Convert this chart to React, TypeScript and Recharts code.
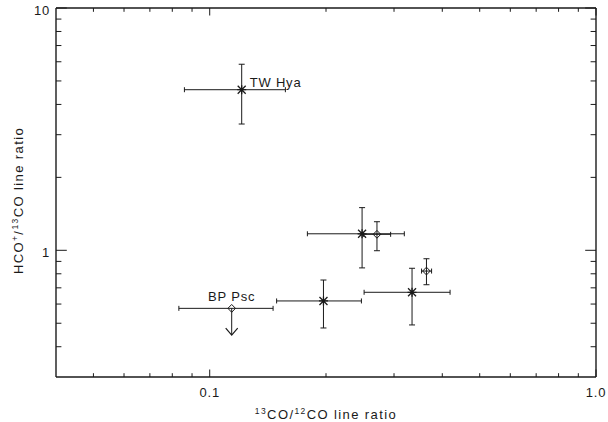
import React from 'react';
import { ScatterChart, Scatter, XAxis, YAxis, ErrorBar, ReferenceLine, Label } from 'recharts';

// ---- axis ticks ----
const xMajorTicks = [0.1, 1.0];
const xTickLabels = ['0.1', '1.0'];
const xMinorTicks = [0.05, 0.06, 0.07, 0.08, 0.09, 0.2, 0.3, 0.4, 0.5, 0.6, 0.7, 0.8, 0.9];
const yMajorTicks = [1, 10];
const yTickLabels = ['1', '10'];
const yMinorTicks = [0.4, 0.5, 0.6, 0.7, 0.8, 0.9, 2, 3, 4, 5, 6, 7, 8, 9];
const xDomain = [0.04, 1.0];
const yDomain = [0.3, 10];

// ---- asterisk sources ----
const starNames = ['TW Hya', '', '', ''];
const starX = [0.121, 0.248, 0.197, 0.334];
const starXLow = [0.086, 0.179, 0.149, 0.251];
const starXHigh = [0.157, 0.319, 0.247, 0.419];
const starY = [4.6, 1.17, 0.618, 0.671];
const starYLow = [3.32, 0.846, 0.478, 0.492];
const starYHigh = [5.86, 1.5, 0.754, 0.843];

// ---- diamond sources ----
const diamondNames = ['', '', 'BP Psc'];
const diamondX = [0.271, 0.364, 0.114];
const diamondXLow = [0.25, 0.3535, 0.0832];
const diamondXHigh = [0.294, 0.3753, 0.1459];
const diamondY = [1.164, 0.821, 0.576];
const diamondYLow: (number | null)[] = [0.996, 0.721, null];
const diamondYHigh: (number | null)[] = [1.312, 0.923, null];

// ---- upper limit (BP Psc) ----
const limitX = [0.114];
const limitFrom = [0.576];
const limitTo = [0.447];

const FONT = '"Liberation Sans", Arial, sans-serif';
const INK = '#1a1a1a';
const FS = 13;
const LS = 0.8;

const starData = starX.map((x, i) => ({
  name: starNames[i], x, y: starY[i],
  ex: [x - starXLow[i], starXHigh[i] - x],
  ey: [starY[i] - starYLow[i], starYHigh[i] - starY[i]],
}));
const diamondData = diamondX.map((x, i) => ({
  name: diamondNames[i], x, y: diamondY[i],
  ex: [x - diamondXLow[i], diamondXHigh[i] - x],
  ey: diamondYLow[i] == null ? undefined : [diamondY[i] - (diamondYLow[i] as number), (diamondYHigh[i] as number) - diamondY[i]],
}));
const arrowData = limitX.map((x, i) => ({ x, y: limitTo[i] }));

const xTicks = [...xMinorTicks, ...xMajorTicks].sort((a, b) => a - b);
const yTicks = [...yMinorTicks, ...yMajorTicks].sort((a, b) => a - b);

const txt = { fontFamily: FONT, fontSize: FS, fill: INK, letterSpacing: LS } as const;
const titleTxt = { ...txt, letterSpacing: 1.4 } as const;

// dir: +1 => tick drawn upward (bottom axis), -1 => downward (top axis)
const makeXTick = (dir: number, showLabel: boolean) => (props: any) => {
  const { x, y, payload } = props;
  const mi = xMajorTicks.indexOf(payload.value);
  const len = mi >= 0 ? 7.5 : 3.8;
  return (
    <g>
      <line x1={x} y1={y} x2={x} y2={y - dir * len} stroke={INK} strokeWidth={1} />
      {showLabel && mi >= 0 && (
        <text x={x} y={y + 20} textAnchor="middle" {...txt}>{xTickLabels[mi]}</text>
      )}
    </g>
  );
};

// dir: +1 => tick drawn rightward (left axis), -1 => leftward (right axis)
const makeYTick = (dir: number, showLabel: boolean) => (props: any) => {
  const { x, y, payload } = props;
  const mi = yMajorTicks.indexOf(payload.value);
  const len = mi >= 0 ? 10.8 : 5.4;
  return (
    <g>
      <line x1={x} y1={y} x2={x + dir * len} y2={y} stroke={INK} strokeWidth={1} />
      {showLabel && mi >= 0 && (
        <text x={x - 6} y={y + 7} textAnchor="end" {...txt}>{yTickLabels[mi]}</text>
      )}
    </g>
  );
};

const StarShape = (props: any) => {
  const { cx, cy, payload } = props;
  const a = 4, b = 4.5;
  return (
    <g>
      <path
        d={`M${cx - a},${cy - a}L${cx + a},${cy + a}M${cx - a},${cy + a}L${cx + a},${cy - a}M${cx},${cy - b}L${cx},${cy + b}M${cx - b},${cy}L${cx + b},${cy}`}
        stroke={INK} strokeWidth={1.3} fill="none"
      />
      {payload && payload.name ? (
        <text x={cx + 8} y={cy - 3} {...txt}>{payload.name}</text>
      ) : null}
    </g>
  );
};

const DiamondShape = (props: any) => {
  const { cx, cy, payload } = props;
  const w = 3.8, h = 3.9;
  return (
    <g>
      <path d={`M${cx},${cy - h}L${cx + w},${cy}L${cx},${cy + h}L${cx - w},${cy}Z`} stroke={INK} strokeWidth={1} fill="none" />
      {payload && payload.name ? (
        <text x={cx} y={cy - 7} textAnchor="middle" {...txt}>{payload.name}</text>
      ) : null}
    </g>
  );
};

const ArrowHead = (props: any) => {
  const { cx, cy } = props;
  return <path d={`M${cx - 6},${cy - 7}L${cx},${cy}L${cx + 6},${cy - 7}`} stroke={INK} strokeWidth={1.2} fill="none" />;
};

const XTitle = (props: any) => {
  const { viewBox } = props;
  const cx = viewBox.x + viewBox.width / 2;
  const y = viewBox.y + 42;
  return (
    <text x={cx} y={y} textAnchor="middle" {...titleTxt}>
      <tspan fontSize={8.5} dy={-5}>13</tspan>
      <tspan dy={5}>CO/</tspan>
      <tspan fontSize={8.5} dy={-5}>12</tspan>
      <tspan dy={5}>CO line ratio</tspan>
    </text>
  );
};

const YTitle = (props: any) => {
  const { viewBox } = props;
  const x = viewBox.x + viewBox.width - 33;
  const cy = viewBox.y + viewBox.height / 2 + 8;
  return (
    <text x={x} y={cy} textAnchor="middle" transform={`rotate(-90 ${x} ${cy})`} {...titleTxt}>
      <tspan>HCO</tspan>
      <tspan fontSize={8.5} dy={-5}>+</tspan>
      <tspan dy={5}>/</tspan>
      <tspan fontSize={8.5} dy={-5}>13</tspan>
      <tspan dy={5}>CO line ratio</tspan>
    </text>
  );
};

export default function App() {
  return (
    <div style={{ position: 'absolute', left: 0, top: 0, background: '#fff' }}>
      <ScatterChart width={608} height={422} margin={{ top: 7, right: 11, bottom: 44, left: 55 }}>
        <XAxis
          dataKey="x" type="number" scale="log" domain={xDomain} allowDataOverflow
          ticks={xTicks} interval={0} height={1} tickSize={0} tickMargin={0}
          axisLine={{ stroke: INK, strokeWidth: 1.4 }} tickLine={false}
          tick={makeXTick(1, true)}
        >
          <Label content={XTitle} />
        </XAxis>
        <XAxis
          xAxisId="top" orientation="top" dataKey="x" type="number" scale="log" domain={xDomain} allowDataOverflow
          ticks={xTicks} interval={0} height={1} tickSize={0} tickMargin={0}
          axisLine={{ stroke: INK, strokeWidth: 1.4 }} tickLine={false}
          tick={makeXTick(-1, false)}
        />
        <YAxis
          dataKey="y" type="number" scale="log" domain={yDomain} allowDataOverflow
          ticks={yTicks} interval={0} width={1} tickSize={0} tickMargin={0}
          axisLine={{ stroke: INK, strokeWidth: 1.4 }} tickLine={false}
          tick={makeYTick(1, true)}
        >
          <Label content={YTitle} />
        </YAxis>
        <YAxis
          yAxisId="right" orientation="right" dataKey="y" type="number" scale="log" domain={yDomain} allowDataOverflow
          ticks={yTicks} interval={0} width={1} tickSize={0} tickMargin={0}
          axisLine={{ stroke: INK, strokeWidth: 1.4 }} tickLine={false}
          tick={makeYTick(-1, false)}
        />
        <ReferenceLine
          segment={[{ x: limitX[0], y: limitFrom[0] }, { x: limitX[0], y: limitTo[0] }]}
          stroke={INK} strokeWidth={1}
        />
        <Scatter data={starData} shape={StarShape} isAnimationActive={false}>
          <ErrorBar dataKey="ex" direction="x" width={2.5} stroke={INK} strokeWidth={1} isAnimationActive={false} />
          <ErrorBar dataKey="ey" direction="y" width={3} stroke={INK} strokeWidth={1} isAnimationActive={false} />
        </Scatter>
        <Scatter data={diamondData} shape={DiamondShape} isAnimationActive={false}>
          <ErrorBar dataKey="ex" direction="x" width={2.5} stroke={INK} strokeWidth={1} isAnimationActive={false} />
          <ErrorBar dataKey="ey" direction="y" width={3} stroke={INK} strokeWidth={1} isAnimationActive={false} />
        </Scatter>
        <Scatter data={arrowData} shape={ArrowHead} isAnimationActive={false} />
      </ScatterChart>
    </div>
  );
}
